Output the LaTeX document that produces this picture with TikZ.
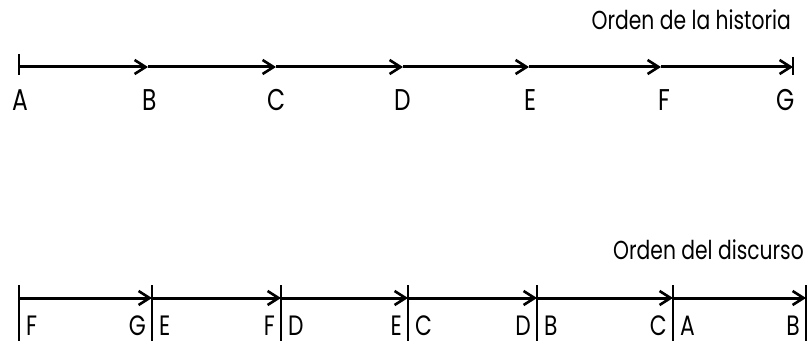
\documentclass[tikz,border=0pt]{standalone}
\usepackage{fontspec}
\setmainfont{Poppins}[FakeStretch=0.78]
\usetikzlibrary{arrows.meta}
\begin{document}
\begin{tikzpicture}[x=1pt,y=-1pt,
  seg/.style={line width=3pt,-{Straight Barb[length=11pt,width=14pt,line width=2.6pt]}},
  tick/.style={line width=2.6pt},
  lbl/.style={inner sep=0pt,text depth=0pt,font=\fontsize{30}{32}\selectfont},
  blbl/.style={inner sep=0pt,text depth=0pt,font=\fontsize{28}{30}\selectfont},
  ttl/.style={inner sep=0pt,anchor=base east,font=\fontsize{26}{28}\selectfont}]
\useasboundingbox (0,0) rectangle (808,345);
% top: story order
\node[ttl] (t1) at (791,30) {Orden de la historia};
\coordinate (pA) at (19,67);
\coordinate (pB) at (148,67);
\coordinate (pC) at (276,67);
\coordinate (pD) at (403,67);
\coordinate (pE) at (529,67);
\coordinate (pF) at (661,67);
\coordinate (pG) at (793,67);
\coordinate (tA1) at (19,54); \coordinate (tA2) at (19,75);
\coordinate (tG1) at (793,57); \coordinate (tG2) at (793,75);
\draw[tick] (tA1) -- (tA2);
\draw[tick] (tG1) -- (tG2);
\draw[seg] (pA) -- (pB);
\draw[seg] (pB) -- (pC);
\draw[seg] (pC) -- (pD);
\draw[seg] (pD) -- (pE);
\draw[seg] (pE) -- (pF);
\draw[seg] (pF) -- (pG);
\node[lbl,anchor=base] (lA) at (20,110) {A};
\node[lbl,anchor=base] (lB) at (150,110) {B};
\node[lbl,anchor=base] (lC) at (277,110) {C};
\node[lbl,anchor=base] (lD) at (403,110) {D};
\node[lbl,anchor=base] (lE) at (530,110) {E};
\node[lbl,anchor=base] (lF) at (664,110) {F};
\node[lbl,anchor=base] (lG) at (786,110) {G};
% bottom: discourse order
\node[ttl] (t2) at (804,259) {Orden del discurso};
\foreach \n/\x in {0/19,1/152,2/281,3/408,4/537,5/673,6/806}{
  \coordinate (q\n) at (\x,298);
  \coordinate (qa\n) at (\x,285);
  \coordinate (qb\n) at (\x,341);
  \draw[tick] (qa\n) -- (qb\n);
}
\draw[seg] (q0) -- (q1);
\draw[seg] (q1) -- (q2);
\draw[seg] (q2) -- (q3);
\draw[seg] (q3) -- (q4);
\draw[seg] (q4) -- (q5);
\draw[seg] (q5) -- (q6);
\foreach \n/\l/\r [count=\i from 0] in {1/F/G,2/E/F,3/D/E,4/C/D,5/B/C,6/A/B}{
  \node[blbl,anchor=base west] (bl\n) at ([xshift=7pt,yshift=-37pt]q\i) {\l};
  \node[blbl,anchor=base east] (br\n) at ([xshift=-6pt,yshift=-37pt]q\n) {\r};
}
\end{tikzpicture}
\end{document}
